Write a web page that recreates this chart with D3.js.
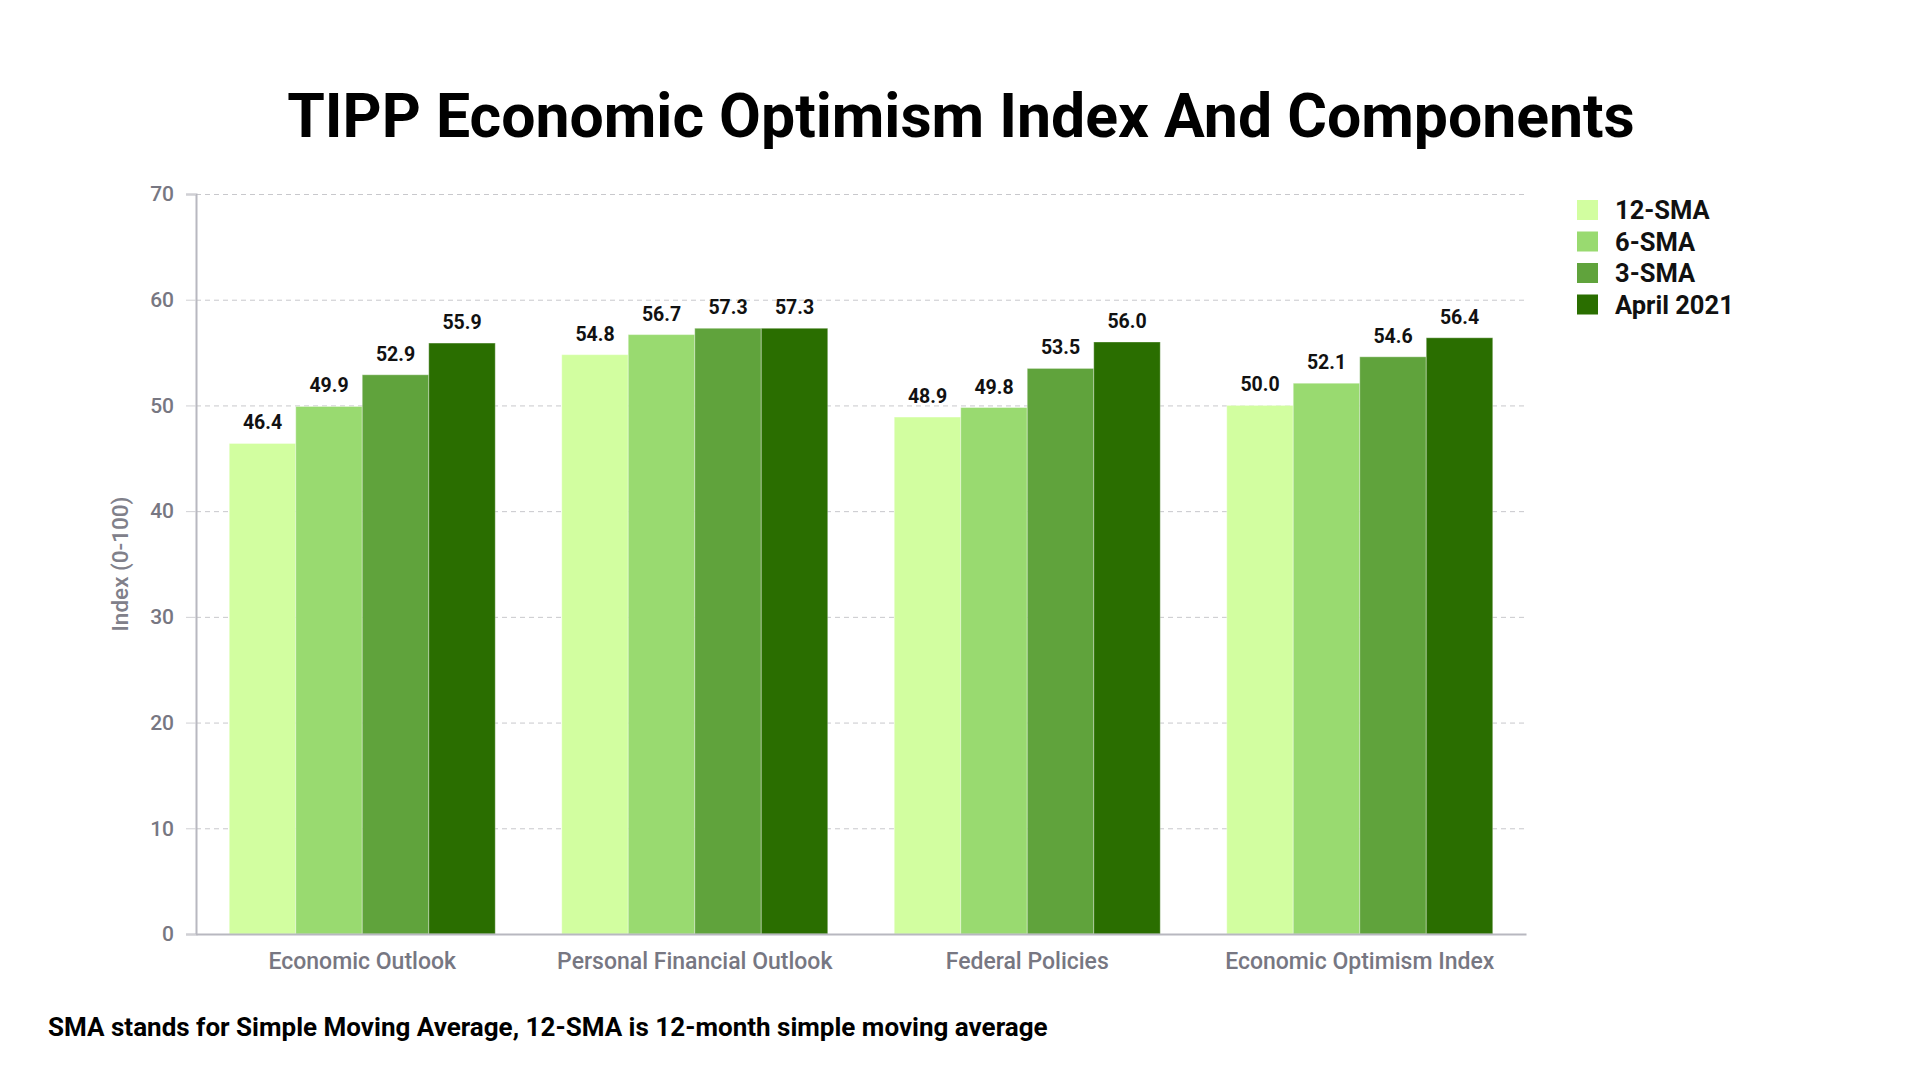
<!DOCTYPE html>
<html>
<head>
<meta charset="utf-8">
<script src="https://cdnjs.cloudflare.com/ajax/libs/d3/7.8.5/d3.min.js"></script>
<style>
  body { margin: 0; background: #fff; }
  svg { display: block; }
</style>
</head>
<body>
<div id="chart"></div>
<script>
//Data
var categories = ["Economic Outlook", "Personal Financial Outlook", "Federal Policies", "Economic Optimism Index"];
var seriesNames = ["12-SMA", "6-SMA", "3-SMA", "April 2021"];
var sma12 = [46.4, 54.8, 48.9, 50.0];
var sma6 = [49.9, 56.7, 49.8, 52.1];
var sma3 = [52.9, 57.3, 53.5, 54.6];
var april2021 = [55.9, 57.3, 56.0, 56.4];
var yTicks = [0, 10, 20, 30, 40, 50, 60, 70];

var seriesValues = [sma12, sma6, sma3, april2021];
var colors = ["#d2fea0", "#99da70", "#60a33c", "#2a6e00"];

var width = 1920, height = 1080;
var margin = {top: 194, right: 394, bottom: 146, left: 196};
var innerW = width - margin.left - margin.right;
var innerH = height - margin.top - margin.bottom;

var svg = d3.select("#chart")
    .append("svg")
    .attr("width", width)
    .attr("height", height);

var g = svg.append("g")
    .attr("transform", "translate(" + margin.left + "," + margin.top + ")");

//Scales
var x0 = d3.scaleBand()
    .domain(categories)
    .range([0, innerW])
    .paddingInner(0.2)
    .paddingOuter(0.1);

var x1 = d3.scaleBand()
    .domain(seriesNames)
    .range([0, x0.bandwidth()]);

var y = d3.scaleLinear()
    .domain([0, 70])
    .range([innerH, 0]);

//Grid lines
g.append("g")
    .attr("class", "grid")
    .call(d3.axisLeft(y).tickValues(yTicks).tickSize(-innerW).tickFormat(""))
    .call(ax => ax.select(".domain").remove())
    .selectAll("line")
    .attr("stroke", "#c8c8cc")
    .attr("stroke-width", 1)
    .attr("stroke-dasharray", "5,4");

//Y axis
var yAxis = g.append("g")
    .call(d3.axisLeft(y).tickValues(yTicks).tickSize(10).tickPadding(12));
yAxis.select(".domain").attr("stroke", "#b8b8c0").attr("stroke-width", 2);
yAxis.selectAll(".tick line").attr("stroke", "#d0d0d4").attr("stroke-width", 1);
yAxis.selectAll(".tick text")
    .attr("fill", "#777782")
    .style("font-family", "Roboto, 'Noto Sans', sans-serif")
    .style("font-size", "21px")
    .style("font-weight", "500");

//Bars
var groups = g.selectAll(".cat")
    .data(categories)
    .enter()
    .append("g")
    .attr("class", "cat")
    .attr("transform", d => "translate(" + x0(d) + ",0)");

groups.selectAll("rect")
    .data((d, i) => seriesNames.map((s, j) => ({s: s, v: seriesValues[j][i], c: colors[j]})))
    .enter()
    .append("rect")
    .attr("x", d => x1(d.s))
    .attr("y", d => y(d.v))
    .attr("width", x1.bandwidth())
    .attr("height", d => innerH - y(d.v))
    .attr("fill", d => d.c)
    .attr("stroke", "rgba(255,255,255,0.35)")
    .attr("stroke-width", 1);

//Value labels
groups.selectAll("text.val")
    .data((d, i) => seriesNames.map((s, j) => ({s: s, v: seriesValues[j][i]})))
    .enter()
    .append("text")
    .attr("class", "val")
    .attr("x", d => x1(d.s) + x1.bandwidth() / 2)
    .attr("y", d => y(d.v) - 14)
    .attr("text-anchor", "middle")
    .attr("fill", "#111")
    .style("font-family", "Roboto, 'Noto Sans', sans-serif")
    .style("font-size", "19.5px")
    .style("font-weight", "700")
    .text(d => d.v.toFixed(1));

//X axis
var xAxis = g.append("g")
    .attr("transform", "translate(0," + innerH + ")")
    .call(d3.axisBottom(x0).tickSize(0).tickPadding(19));
xAxis.select(".domain").attr("stroke", "#b8b8c0").attr("stroke-width", 2);
xAxis.selectAll(".tick text")
    .attr("fill", "#777782")
    .style("font-family", "Roboto, 'Noto Sans', sans-serif")
    .style("font-size", "23px")
    .style("font-weight", "500");

//Y axis title
svg.append("text")
    .attr("transform", "translate(128," + (margin.top + innerH / 2) + ") rotate(-90)")
    .attr("text-anchor", "middle")
    .attr("fill", "#80808a")
    .style("font-family", "Roboto, 'Noto Sans', sans-serif")
    .style("font-size", "22.5px")
    .style("font-weight", "500")
    .text("Index (0-100)");

//Title -- sized to match reference width
var title = svg.append("text")
    .attr("x", 961)
    .attr("y", 137)
    .attr("text-anchor", "middle")
    .attr("fill", "#000")
    .style("font-family", "Roboto, 'Noto Sans', sans-serif")
    .style("font-size", "58px")
    .style("font-weight", "700")
    .text("TIPP Economic Optimism Index And Components");
var tw = title.node().getComputedTextLength();
title.style("font-size", (58 * 1348 / tw) + "px");

//Legend
var legend = svg.append("g")
    .attr("transform", "translate(1577,200)");
var li = legend.selectAll("g")
    .data(seriesNames)
    .enter()
    .append("g")
    .attr("transform", (d, i) => "translate(0," + i * 31.5 + ")");
li.append("rect")
    .attr("width", 21)
    .attr("height", 20)
    .attr("fill", (d, i) => colors[i]);
li.append("text")
    .attr("x", 38)
    .attr("y", 19)
    .attr("fill", "#111")
    .style("font-family", "Roboto, 'Noto Sans', sans-serif")
    .style("font-size", "25.5px")
    .style("font-weight", "700")
    .text(d => d);

//Footnote
var note = svg.append("text")
    .attr("x", 48)
    .attr("y", 1036)
    .attr("fill", "#000")
    .style("font-family", "Roboto, 'Noto Sans', sans-serif")
    .style("font-size", "24px")
    .style("font-weight", "700")
    .text("SMA stands for Simple Moving Average, 12-SMA is 12-month simple moving average");
var nw = note.node().getComputedTextLength();
note.style("font-size", (24 * 1000 / nw) + "px");
</script>
</body>
</html>
